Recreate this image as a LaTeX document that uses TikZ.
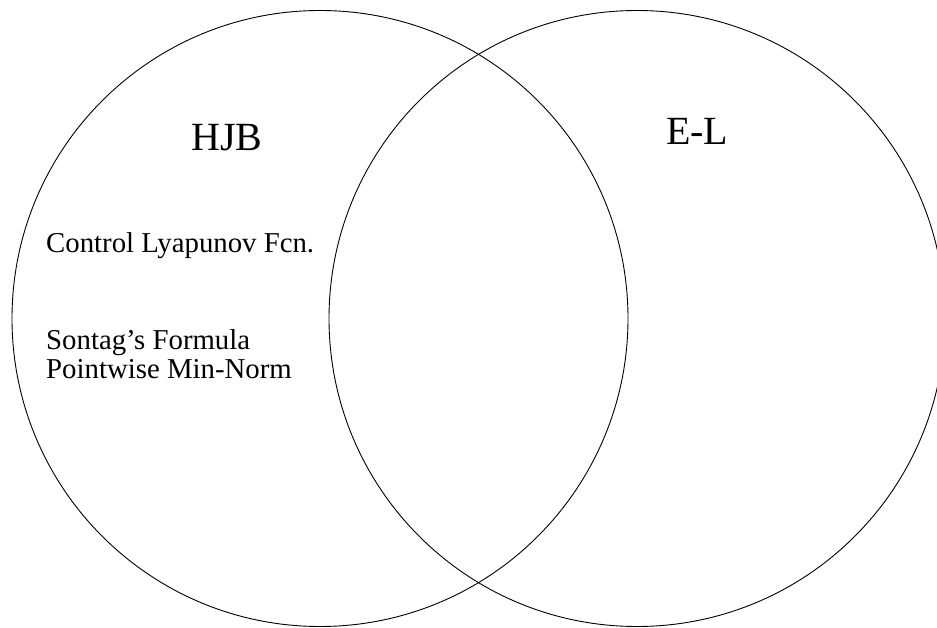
\documentclass[tikz,border=0pt]{standalone}
\usepackage{fontspec}
\setmainfont{Liberation Serif}
\begin{document}
\begin{tikzpicture}[x=1pt,y=-1pt,
  setcircle/.style={circle, draw=black, line width=0.9pt, minimum size=616pt, inner sep=0pt},
  bigtitle/.style={anchor=base west, inner sep=0pt, font=\fontsize{40}{44}\selectfont},
  smalltext/.style={anchor=base west, inner sep=0pt, font=\fontsize{28.8}{29}\selectfont}]
\useasboundingbox (0,0) rectangle (937,628);
\clip (0,0) rectangle (937,628);
\node[setcircle] (hjbset) at (320,318.5) {};
\node[setcircle] (elset) at (637,318.5) {};
\node[bigtitle] (hjb) at (191,150.7) {HJB};
\node[bigtitle] (el) at (666,145) {E-L};
\node[smalltext] (clf) at (46,253) {Control Lyapunov Fcn.};
\node[smalltext] (sontag) at (46,349) {Sontag’s Formula};
\node[smalltext] (minnorm) at (46,378) {Pointwise Min-Norm};
\end{tikzpicture}
\end{document}
